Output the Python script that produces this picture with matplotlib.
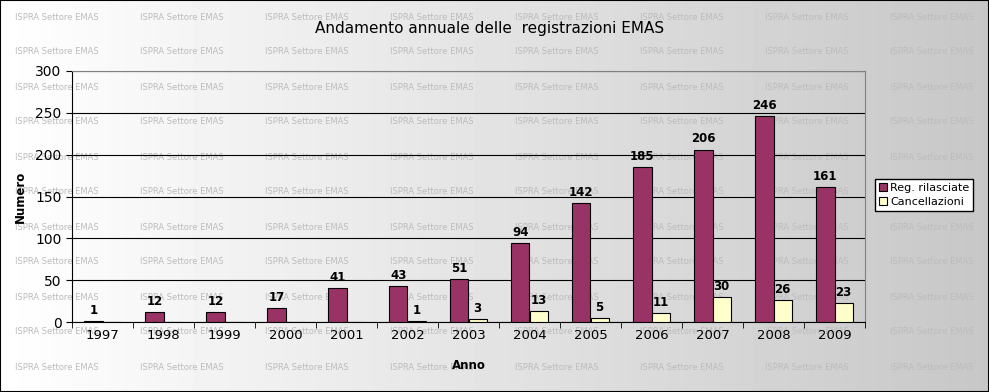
import numpy as np
import matplotlib.pyplot as plt

anni = ["1997", "1998", "1999", "2000", "2001", "2002", "2003",
        "2004", "2005", "2006", "2007", "2008", "2009"]
rilasciate = [1, 12, 12, 17, 41, 43, 51, 94, 142, 185, 206, 246, 161]
cancellazioni = [0, 0, 0, 0, 0, 1, 3, 13, 5, 11, 30, 26, 23]

fig = plt.figure(figsize=(9.89, 3.92), dpi=100)

# sfondo sfumato bianco -> grigio con filigrana
bg = fig.add_axes([0, 0, 1, 1], zorder=-10)
grad = np.linspace(1.0, 0.78, 256).reshape(1, -1)
bg.imshow(grad, aspect="auto", cmap="gray", vmin=0, vmax=1, extent=[0, 1, 0, 1])
for xw in np.arange(15, 989, 125):
    for yw in np.arange(17, 392, 35):
        bg.text(xw / 989, 1 - yw / 392, "ISPRA Settore EMAS", fontsize=6,
                color="#bcbcbc", va="center", ha="left", transform=bg.transAxes)
bg.set_xlim(0, 1)
bg.set_ylim(0, 1)
for s in bg.spines.values():
    s.set_edgecolor("black")
    s.set_linewidth(1.5)
bg.set_xticks([])
bg.set_yticks([])

ax = fig.add_axes([72 / 989, 1 - 322 / 392, (865 - 72) / 989, (322 - 71) / 392])
ax.patch.set_alpha(0)

x = np.arange(len(anni))
w = 0.3
b1 = ax.bar(x - w / 2, rilasciate, w, color="#993366", edgecolor="black",
            linewidth=0.8, label="Reg. rilasciate", zorder=3)
b2 = ax.bar(x + w / 2, cancellazioni, w, color="#FFFFCC", edgecolor="black",
            linewidth=0.8, label="Cancellazioni", zorder=3)

for xi, v in zip(x, rilasciate):
    ax.text(xi - w / 2, v + 5, str(v), ha="center", va="bottom",
            fontsize=8.5, fontweight="bold")
for xi, v in zip(x, cancellazioni):
    if v > 0:
        ax.text(xi + w / 2, v + 5, str(v), ha="center", va="bottom",
                fontsize=8.5, fontweight="bold")

ax.set_xlim(-0.5, len(anni) - 0.5)
ax.set_ylim(0, 300)
ax.set_yticks(range(0, 301, 50))
ax.yaxis.grid(True, color="black", linewidth=0.8, zorder=0)
ax.set_axisbelow(True)
ax.tick_params(axis="y", labelsize=10, length=4, direction="out")

ax.set_xticks(x)
ax.set_xticklabels(anni, fontsize=9.5)
ax.tick_params(axis="x", length=0, pad=5)
ax.set_xticks(np.arange(-0.5, len(anni)), minor=True)
ax.tick_params(axis="x", which="minor", length=4, direction="out")

ax.spines["top"].set_color("#808080")
ax.spines["right"].set_color("#808080")

ax.set_ylabel("Numero", fontsize=8.5, fontweight="bold", labelpad=6)
ax.set_xlabel("Anno", fontsize=8.5, fontweight="bold", labelpad=12)

fig.text(0.495, 1 - 28 / 392, "Andamento annuale delle  registrazioni EMAS",
         ha="center", va="center", fontsize=11)

fig.legend(handles=[b1, b2], loc="center left", bbox_to_anchor=(875 / 989, 1 - 195 / 392),
           fontsize=8, frameon=True, fancybox=False, edgecolor="black",
           handlelength=0.7, handleheight=0.7, handletextpad=0.3,
           borderpad=0.35, labelspacing=0.35, framealpha=1, borderaxespad=0)

fig.savefig("out.png", dpi=100)
